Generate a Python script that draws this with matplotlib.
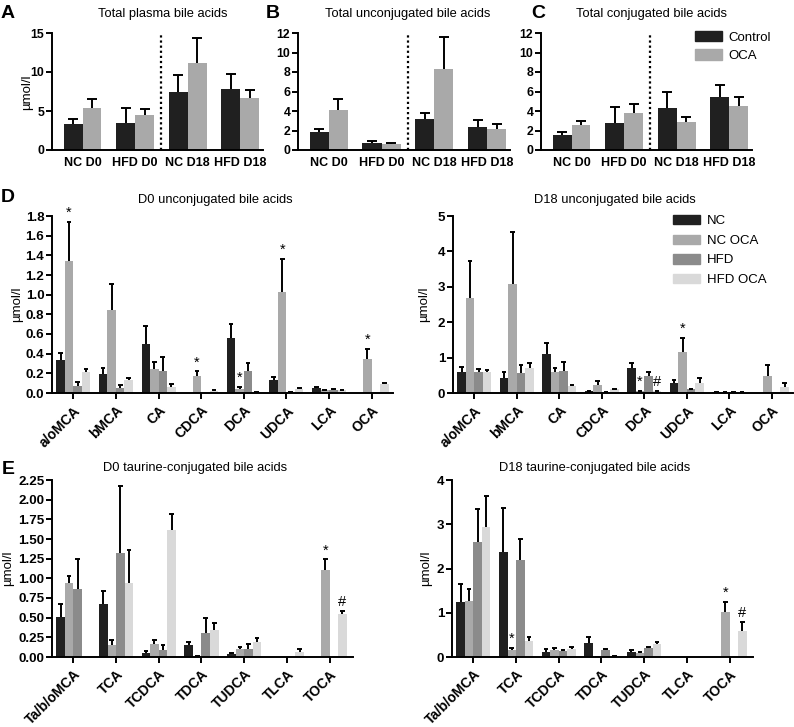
import matplotlib
matplotlib.use('Agg')
import matplotlib.pyplot as plt
import numpy as np
from matplotlib.patches import Patch

plt.rcParams['font.family'] = ['Liberation Sans', 'DejaVu Sans']

W, H = 794, 727

# ---------------- data ----------------
top_groups = ['NC D0', 'HFD D0', 'NC D18', 'HFD D18']

plasma_ctrl = [3.32, 3.41, 7.41, 7.84]
plasma_ctrl_sem = [0.64, 1.92, 2.22, 1.87]
plasma_oca = [5.33, 4.43, 11.2, 6.69]
plasma_oca_sem = [1.19, 0.77, 3.1, 1.06]

unconj_ctrl = [1.8, 0.68, 3.17, 2.39]
unconj_ctrl_sem = [0.4, 0.27, 0.65, 0.68]
unconj_oca = [4.09, 0.61, 8.35, 2.15]
unconj_oca_sem = [1.19, 0.14, 3.25, 0.48]

conj_ctrl = [1.53, 2.8, 4.26, 5.45]
conj_ctrl_sem = [0.35, 1.56, 1.71, 1.23]
conj_oca = [2.59, 3.82, 2.83, 4.5]
conj_oca_sem = [0.41, 0.85, 0.55, 0.95]

unconj_acids = ['a/oMCA', 'bMCA', 'CA', 'CDCA', 'DCA', 'UDCA', 'LCA', 'OCA']
series_names = ['NC', 'NC OCA', 'HFD', 'HFD OCA']

d0u_nc = [0.34, 0.19, 0.50, 0.0, 0.56, 0.13, 0.05, 0.0]
d0u_nc_sem = [0.07, 0.06, 0.18, 0.0, 0.14, 0.03, 0.015, 0.0]
d0u_ncoca = [1.34, 0.84, 0.24, 0.17, 0.037, 1.03, 0.027, 0.35]
d0u_ncoca_sem = [0.40, 0.27, 0.08, 0.05, 0.028, 0.33, 0.004, 0.095]
d0u_hfd = [0.075, 0.047, 0.22, 0.0, 0.227, 0.01, 0.034, 0.0]
d0u_hfd_sem = [0.04, 0.033, 0.15, 0.0, 0.083, 0.0, 0.01, 0.0]
d0u_hfdoca = [0.217, 0.13, 0.065, 0.02, 0.01, 0.044, 0.027, 0.088]
d0u_hfdoca_sem = [0.027, 0.02, 0.025, 0.008, 0.0, 0.006, 0.0, 0.012]

d18u_nc = [0.60, 0.41, 1.10, 0.066, 0.70, 0.27, 0.02, 0.0]
d18u_nc_sem = [0.13, 0.17, 0.32, 0.0, 0.15, 0.10, 0.0, 0.0]
d18u_ncoca = [2.67, 3.07, 0.59, 0.22, 0.06, 1.17, 0.02, 0.48]
d18u_ncoca_sem = [1.05, 1.47, 0.12, 0.13, 0.0, 0.39, 0.0, 0.30]
d18u_hfd = [0.59, 0.56, 0.63, 0.02, 0.47, 0.10, 0.02, 0.0]
d18u_hfd_sem = [0.10, 0.23, 0.25, 0.0, 0.13, 0.02, 0.0, 0.0]
d18u_hfdoca = [0.58, 0.70, 0.20, 0.10, 0.06, 0.29, 0.02, 0.18]
d18u_hfdoca_sem = [0.07, 0.16, 0.04, 0.01, 0.0, 0.12, 0.0, 0.09]

tauro_acids = ['Ta/b/oMCA', 'TCA', 'TCDCA', 'TDCA', 'TUDCA', 'TLCA', 'TOCA']

d0t_nc = [0.504, 0.68, 0.055, 0.153, 0.038, 0.0, 0.0]
d0t_nc_sem = [0.166, 0.155, 0.025, 0.042, 0.009, 0.0, 0.0]
d0t_ncoca = [0.94, 0.153, 0.165, 0.01, 0.097, 0.0, 1.11]
d0t_ncoca_sem = [0.09, 0.063, 0.045, 0.0, 0.026, 0.0, 0.13]
d0t_hfd = [0.86, 1.32, 0.09, 0.30, 0.106, 0.0, 0.0]
d0t_hfd_sem = [0.38, 0.86, 0.06, 0.20, 0.059, 0.0, 0.0]
d0t_hfdoca = [0.0, 0.945, 1.62, 0.34, 0.186, 0.064, 0.547]
d0t_hfdoca_sem = [0.0, 0.415, 0.20, 0.096, 0.051, 0.033, 0.043]

d18t_nc = [1.235, 2.37, 0.113, 0.31, 0.105, 0.0, 0.0]
d18t_nc_sem = [0.425, 1.0, 0.06, 0.15, 0.053, 0.0, 0.0]
d18t_ncoca = [1.265, 0.158, 0.15, 0.01, 0.09, 0.0, 1.01]
d18t_ncoca_sem = [0.265, 0.038, 0.046, 0.0, 0.023, 0.0, 0.225]
d18t_hfd = [2.6, 2.19, 0.136, 0.15, 0.21, 0.0, 0.0]
d18t_hfd_sem = [0.74, 0.47, 0.022, 0.023, 0.016, 0.0, 0.0]
d18t_hfdoca = [2.94, 0.37, 0.173, 0.02, 0.286, 0.0, 0.595]
d18t_hfdoca_sem = [0.70, 0.09, 0.047, 0.01, 0.06, 0.0, 0.195]

# significance marks: (category index, series index, symbol)
d0u_marks = [(0, 1, '*'), (3, 1, '*'), (4, 1, '*'), (5, 1, '*'), (7, 1, '*')]
d18u_marks = [(4, 1, '*'), (4, 3, '#'), (5, 1, '*')]
d0t_marks = [(6, 1, '*'), (6, 3, '#')]
d18t_marks = [(1, 1, '*'), (6, 1, '*'), (6, 3, '#')]

# ---------------- style ----------------
C_CTRL = '#202020'
C_OCA = '#a9a9a9'
four_colors = ['#202020', '#a9a9a9', '#8b8b8b', '#d9d9d9']
LW = 1.4

fig = plt.figure(figsize=(W / 100, H / 100), dpi=100)


def px_rect(l, t, r, b):
    return [l / W, 1 - b / H, (r - l) / W, (b - t) / H]


def style_axes(ax):
    ax.spines['top'].set_visible(False)
    ax.spines['right'].set_visible(False)
    for s in ('left', 'bottom'):
        ax.spines[s].set_linewidth(LW)
    ax.tick_params(width=LW, length=4, direction='out', colors='black')
    ax.tick_params(axis='y', pad=1.5)


def draw_err(ax, x, vals, sems, cw):
    vals = np.asarray(vals, float)
    sems = np.asarray(sems, float)
    x = np.asarray(x, float)
    m = vals > 0
    tips = vals + sems
    ax.vlines(x[m], vals[m], tips[m], colors='black', lw=LW, zorder=3)
    ax.hlines(tips[m], x[m] - cw / 2, x[m] + cw / 2, colors='black', lw=LW, zorder=3)


def top_panel(ax, ctrl, ctrl_sem, oca, oca_sem, yticks, ylim):
    x = np.arange(len(top_groups))
    bw = 0.36
    ax.bar(x - bw / 2, ctrl, bw, color=C_CTRL, zorder=2)
    ax.bar(x + bw / 2, oca, bw, color=C_OCA, zorder=2)
    draw_err(ax, x - bw / 2, ctrl, ctrl_sem, 0.19)
    draw_err(ax, x + bw / 2, oca, oca_sem, 0.19)
    ax.axvline(1.5, color='black', lw=1.6, linestyle=(0, (1, 1.3)), zorder=1)
    ax.set_xlim(-0.58, 3.43)
    ax.set_ylim(*ylim)
    ax.set_xticks(x)
    ax.set_xticklabels(top_groups, fontsize=9, fontweight='bold')
    ax.set_yticks(yticks)
    ax.set_yticklabels([str(v) for v in yticks], fontsize=8.8, fontweight='bold')
    style_axes(ax)
    ax.tick_params(axis='x', length=0, pad=5)


def multi_panel(ax, cats, series, sems, yticks, fmt, ylim, marks, xlim):
    x = np.arange(len(cats))
    bw = 0.2
    offs = [-1.5 * bw, -0.5 * bw, 0.5 * bw, 1.5 * bw]
    for i in range(4):
        ax.bar(x + offs[i], series[i], bw, color=four_colors[i], zorder=2)
        draw_err(ax, x + offs[i], series[i], sems[i], 0.11)
    for ci, si, sym in marks:
        tip = series[si][ci] + sems[si][ci]
        ax.annotate(sym, xy=(x[ci] + offs[si], tip), xytext=(0, 1.5),
                    textcoords='offset points', ha='center', va='bottom',
                    fontsize=10.5)
    ax.set_xlim(*xlim)
    ax.set_ylim(*ylim)
    ax.set_xticks(x)
    ax.set_xticklabels(cats, rotation=45, ha='right', rotation_mode='anchor',
                       fontsize=10, fontweight='bold')
    ax.set_yticks(yticks)
    ax.set_yticklabels([fmt.format(v) for v in yticks], fontsize=9.6, fontweight='bold')
    style_axes(ax)


# ---------------- top row ----------------
axA = fig.add_axes(px_rect(52, 33, 263, 150))
top_panel(axA, plasma_ctrl, plasma_ctrl_sem, plasma_oca, plasma_oca_sem, [0, 5, 10, 15], (0, 15))
axB = fig.add_axes(px_rect(298, 33, 510, 150))
top_panel(axB, unconj_ctrl, unconj_ctrl_sem, unconj_oca, unconj_oca_sem, list(range(0, 13, 2)), (0, 12))
axC = fig.add_axes(px_rect(541, 33, 752, 150))
top_panel(axC, conj_ctrl, conj_ctrl_sem, conj_oca, conj_oca_sem, list(range(0, 13, 2)), (0, 12))

axC.legend([Patch(color=C_CTRL), Patch(color=C_OCA)], ['Control', 'OCA'],
           loc='upper left', bbox_to_anchor=(695 / W, 1 - 31 / H), bbox_transform=fig.transFigure,
           frameon=False, fontsize=9.5, handlelength=2.05, handleheight=0.83,
           labelspacing=0.42, handletextpad=0.45, borderpad=0, borderaxespad=0)

# ---------------- D row ----------------
axD1 = fig.add_axes(px_rect(52, 216, 393, 393))
multi_panel(axD1, unconj_acids, [d0u_nc, d0u_ncoca, d0u_hfd, d0u_hfdoca],
            [d0u_nc_sem, d0u_ncoca_sem, d0u_hfd_sem, d0u_hfdoca_sem],
            [round(0.2 * i, 1) for i in range(10)], '{:.1f}', (0, 1.8), d0u_marks, (-0.5, 7.5))
axD2 = fig.add_axes(px_rect(453, 216, 793, 393))
multi_panel(axD2, unconj_acids, [d18u_nc, d18u_ncoca, d18u_hfd, d18u_hfdoca],
            [d18u_nc_sem, d18u_ncoca_sem, d18u_hfd_sem, d18u_hfdoca_sem],
            list(range(0, 6)), '{:d}', (0, 5), d18u_marks, (-0.5, 7.5))
axD2.legend([Patch(color=c) for c in four_colors], series_names,
            loc='upper left', bbox_to_anchor=(673 / W, 1 - 215 / H), bbox_transform=fig.transFigure,
            frameon=False, fontsize=9.5, handlelength=2.05, handleheight=0.72,
            labelspacing=0.55, handletextpad=0.5, borderpad=0, borderaxespad=0)

# ---------------- E row ----------------
axE1 = fig.add_axes(px_rect(52, 480, 353, 657))
multi_panel(axE1, tauro_acids, [d0t_nc, d0t_ncoca, d0t_hfd, d0t_hfdoca],
            [d0t_nc_sem, d0t_ncoca_sem, d0t_hfd_sem, d0t_hfdoca_sem],
            [0.25 * i for i in range(10)], '{:.2f}', (0, 2.25), d0t_marks, (-0.5, 6.55))
axE2 = fig.add_axes(px_rect(452, 480, 753, 657))
multi_panel(axE2, tauro_acids, [d18t_nc, d18t_ncoca, d18t_hfd, d18t_hfdoca],
            [d18t_nc_sem, d18t_ncoca_sem, d18t_hfd_sem, d18t_hfdoca_sem],
            list(range(0, 5)), '{:d}', (0, 4), d18t_marks, (-0.5, 6.55))

# ---------------- texts ----------------
def ftext(x, y, s, **kw):
    fig.text(x / W, 1 - y / H, s, **kw)

for (x, y, s) in [(8, 14, 'A'), (273, 14, 'B'), (538, 14, 'C'), (8, 197, 'D'), (8, 470, 'E')]:
    ftext(x, y, s, fontsize=14, fontweight='bold', ha='center', va='center')

for (x, y, s) in [(163, 14, 'Total plasma bile acids'),
                  (408, 14, 'Total unconjugated bile acids'),
                  (652, 14, 'Total conjugated bile acids'),
                  (215, 200, 'D0 unconjugated bile acids'),
                  (615, 200, 'D18 unconjugated bile acids'),
                  (195, 468, 'D0 taurine-conjugated bile acids'),
                  (595, 468, 'D18 taurine-conjugated bile acids')]:
    ftext(x, y, s, fontsize=9.3, ha='center', va='center')

for (x, y) in [(27, 92), (17, 304), (424, 304), (8, 568), (426, 568)]:
    ftext(x, y, 'µmol/l', fontsize=9.5, rotation=90, ha='center', va='center')

fig.savefig('out.png', dpi=100)
